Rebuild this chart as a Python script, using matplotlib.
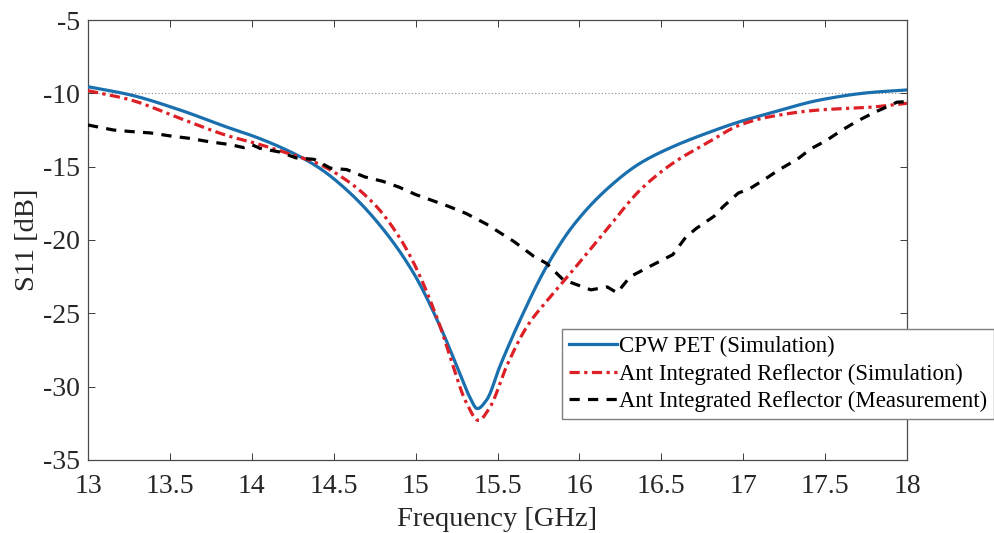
import numpy as np
import matplotlib
matplotlib.use("Agg")
import matplotlib.pyplot as plt

# S11 of the CPW antenna on PET (simulated)
freq_cpw = [13.0, 13.26, 13.56, 13.87, 13.99, 14.19, 14.40, 14.60, 14.79, 14.99,
            15.15, 15.27, 15.33, 15.377, 15.434, 15.515, 15.64, 15.80,
            15.963, 16.166, 16.37, 16.57, 16.777, 16.98, 17.16, 17.47, 17.77, 18.0]
s11_cpw = [-9.55, -10.11, -11.13, -12.39, -12.84, -13.75, -15.0, -16.8, -19.1, -22.3,
           -25.9, -29.1, -30.7, -31.5, -30.9, -28.6, -25.4, -21.8,
           -19.0, -16.55, -14.77, -13.64, -12.72, -11.93, -11.36, -10.45, -9.95, -9.77]

# S11 of the antenna with integrated reflector (simulated)
freq_refl_sim = [13.0, 13.26, 13.56, 13.87, 13.99, 14.19, 14.40, 14.60, 14.76, 14.90,
                 14.99, 15.15, 15.21, 15.31, 15.383, 15.454, 15.556, 15.68, 15.82,
                 15.95, 16.166, 16.37, 16.57, 16.777, 16.98, 17.16, 17.47, 17.77, 18.0]
s11_refl_sim = [-9.82, -10.45, -11.7, -12.95, -13.3, -13.98, -14.77, -16.1, -17.7, -19.8,
                -21.6, -25.9, -27.95, -31.1, -32.3, -31.4, -28.6, -25.9, -23.9,
                -22.2, -19.3, -16.6, -14.77, -13.4, -12.16, -11.6, -11.13, -10.95, -10.68]

# S11 of the antenna with integrated reflector (measured)
freq_refl_meas = [13.0, 13.155, 13.256, 13.38, 13.5, 13.62, 13.74, 13.87, 13.95, 14.0,
                  14.05, 14.17, 14.27, 14.38, 14.48, 14.58, 14.69, 14.8, 14.9, 15.0,
                  15.2, 15.31, 15.43, 15.6, 15.72, 15.8, 15.9, 16.07, 16.17, 16.23,
                  16.31, 16.43, 16.57, 16.65, 16.715, 16.82, 16.88, 16.97, 17.04, 17.14,
                  17.22, 17.33, 17.41, 17.51, 17.59, 17.69, 17.79, 17.9, 17.94, 18.0]
s11_refl_meas = [-12.16, -12.5, -12.6, -12.7, -12.9, -13.07, -13.3, -13.5, -13.7, -13.5,
                 -13.75, -14.0, -14.4, -14.5, -15.1, -15.2, -15.7, -16.0, -16.4, -16.9,
                 -17.7, -18.2, -18.9, -20.1, -21.1, -21.6, -22.7, -23.4, -23.2, -23.6,
                 -22.5, -21.8, -21.0, -19.8, -19.2, -18.4, -17.7, -16.8, -16.5, -15.8,
                 -15.2, -14.5, -13.8, -13.2, -12.6, -11.93, -11.36, -10.8, -10.6, -10.57]

labels = ["CPW PET (Simulation)",
          "Ant Integrated Reflector (Simulation)",
          "Ant Integrated Reflector (Measurement)"]
x_ticks = [13, 13.5, 14, 14.5, 15, 15.5, 16, 16.5, 17, 17.5, 18]
y_ticks = [-35, -30, -25, -20, -15, -10, -5]
threshold = -10

plt.rcParams["font.family"] = ["Liberation Serif", "DejaVu Serif"]
plt.rcParams["axes.unicode_minus"] = False

fig = plt.figure(figsize=(9.94, 5.33), dpi=100)
ax = fig.add_axes([88 / 994, 1 - 460 / 533, (907 - 88) / 994, (460 - 20) / 533])


def smooth(xs, ys, n=600):
    xs = np.asarray(xs, float)
    ys = np.asarray(ys, float)
    xf = np.linspace(xs[0], xs[-1], n)
    h = np.diff(xs)
    d = np.diff(ys) / h
    m = np.zeros_like(ys)
    m[0], m[-1] = d[0], d[-1]
    for i in range(1, len(xs) - 1):
        if d[i - 1] * d[i] <= 0:
            m[i] = 0.0
        else:
            w1 = 2 * h[i] + h[i - 1]
            w2 = h[i] + 2 * h[i - 1]
            m[i] = (w1 + w2) / (w1 / d[i - 1] + w2 / d[i])
    idx = np.clip(np.searchsorted(xs, xf) - 1, 0, len(xs) - 2)
    t = (xf - xs[idx]) / h[idx]
    h00 = 2 * t**3 - 3 * t**2 + 1
    h10 = t**3 - 2 * t**2 + t
    h01 = -2 * t**3 + 3 * t**2
    h11 = t**3 - t**2
    yf = (h00 * ys[idx] + h10 * h[idx] * m[idx]
          + h01 * ys[idx + 1] + h11 * h[idx] * m[idx + 1])
    return xf, yf


ax.axhline(threshold, color="#8a8a8a", linestyle=(0, (1, 2)), linewidth=0.8, zorder=1)

xa, ya = smooth(freq_cpw, s11_cpw)
ax.plot(xa, ya, color="#1A6FAE", linewidth=2.3, label=labels[0], zorder=3)
xb, yb = smooth(freq_refl_sim, s11_refl_sim)
ax.plot(xb, yb, color="#DC2026", linewidth=2.3, linestyle=(0, (3.2, 1.4, 1, 1.4)),
        label=labels[1], zorder=4)
ax.plot(freq_refl_meas, s11_refl_meas, color="black", linewidth=2.3,
        linestyle=(0, (3.2, 2.6)), label=labels[2], zorder=5)

ax.set_xlim(13, 18)
ax.set_ylim(-35, -5)
ax.set_xticks(x_ticks)
ax.set_xticklabels([f"{t:g}" for t in x_ticks])
ax.set_yticks(y_ticks)
ax.tick_params(direction="in", length=5, width=0.7, labelsize=20, colors="#3a3a3a",
               labelcolor="#262626", top=True, right=True)
ax.tick_params(axis="x", pad=10)
ax.tick_params(axis="y", pad=6)
for s in ax.spines.values():
    s.set_linewidth(0.9)
    s.set_color("#4a4a4a")

ax.set_xlabel("Frequency [GHz]", fontsize=20.5, color="#262626", labelpad=6)
ax.set_ylabel("S11 [dB]", fontsize=20.5, color="#262626", labelpad=2)

leg = ax.legend(loc="upper left", bbox_to_anchor=((562 - 88) / 819, (460 - 329) / 440),
                fontsize=16.4, frameon=True, fancybox=False, handlelength=2.1,
                handletextpad=0.12, borderaxespad=0, borderpad=0.3, labelspacing=0.28)
leg.get_frame().set_edgecolor("#7f7f7f")
leg.get_frame().set_linewidth(1.0)
leg.get_frame().set_alpha(1.0)

fig.savefig("out.png", dpi=100)
